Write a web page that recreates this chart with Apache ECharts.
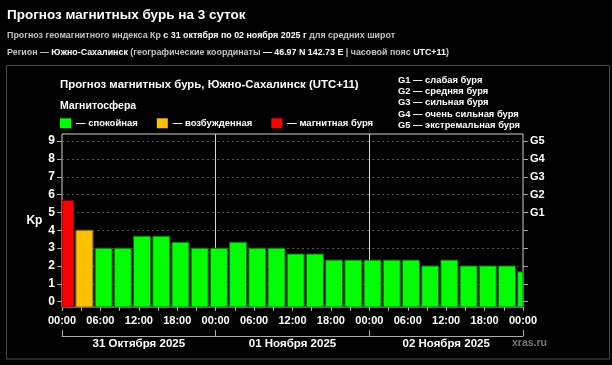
<!DOCTYPE html>
<html><head><meta charset="utf-8">
<script src="https://cdn.jsdelivr.net/npm/echarts@6/dist/echarts.min.js"></script>
<style>html,body{margin:0;padding:0;background:#000;}#c{width:612px;height:365px;}</style>
</head><body><div id="c"></div>
<script>
// ---- data ----
const barHours = [0.5, 3.5, 6.5, 9.5, 12.5, 15.5, 18.5, 21.5, 24.5, 27.5, 30.5, 33.5, 36.5, 39.5, 42.5, 45.5, 48.5, 51.5, 54.5, 57.5, 60.5, 63.5, 66.5, 69.5, 72.5];
const kpValues = [5.67, 4, 3, 3, 3.67, 3.67, 3.33, 3, 3, 3.33, 3, 3, 2.67, 2.67, 2.33, 2.33, 2.33, 2.33, 2.33, 2, 2.33, 2, 2, 2, 1.67];
const kpTicks = [0, 1, 2, 3, 4, 5, 6, 7, 8, 9];
const gLevels = [5, 6, 7, 8, 9];
const gLabels = ['G1', 'G2', 'G3', 'G4', 'G5'];
const gDescriptions = ['G1 — слабая буря', 'G2 — средняя буря', 'G3 — сильная буря', 'G4 — очень сильная буря', 'G5 — экстремальная буря'];
const timeLabels = ['00:00', '06:00', '12:00', '18:00'];
const dayLabels = ['31 Октября 2025', '01 Ноября 2025', '02 Ноября 2025'];
const dayBoundaries = [24, 48];
const legendNames = ['— спокойная', '— возбужденная', '— магнитная буря'];
const legendColors = ['#00ff00', '#ffc000', '#ff0000'];
const legendStrokes = ['#0b6e0b', '#8a6800', '#7a0000'];

const FONT = 'Liberation Sans, Arial, sans-serif';
const X_MIN = 0, X_MAX = 72, Y_MIN = -0.3, Y_MAX = 9.4;

function levelOf(v) { return v >= 5 ? 2 : (v >= 4 ? 1 : 0); }

function renderBar(params, api) {
  const h = api.value(0), v = api.value(1);
  const top = api.coord([h, v]);
  const base = api.coord([h, Y_MIN]);
  const w = api.size([3, 0])[0] * 0.885;
  const cs = params.coordSys;
  const shape = echarts.graphic.clipRectByRect(
    { x: top[0] - w / 2, y: top[1], width: w, height: base[1] - top[1] },
    { x: cs.x, y: cs.y, width: cs.width, height: cs.height });
  if (!shape) return;
  const lv = levelOf(v);
  return { type: 'rect', shape: shape, style: { fill: legendColors[lv], stroke: legendStrokes[lv], lineWidth: 1 } };
}

const chart = echarts.init(document.getElementById('c'), null, { renderer: 'canvas' });
const gray = '#c4c4c4';
const option = {
  backgroundColor: '#000',
  animation: false,
  textStyle: { fontFamily: FONT },
  title: [
    { text: 'Прогноз магнитных бурь на 3 суток', left: 7, top: 7.5, padding: 0,
      textStyle: { color: '#fff', fontSize: 13.5, fontWeight: 'bold', lineHeight: 16, fontFamily: FONT } },
    { text: '{n|Прогноз геомагнитного индекса Кр }{b|с 31 октября по 02 ноября 2025 г}{n| для средних широт}',
      left: 7, top: 30, padding: 0,
      textStyle: { fontFamily: FONT, lineHeight: 12, rich: {
        n: { color: gray, fontSize: 8.9, fontFamily: FONT, lineHeight: 12 },
        b: { color: '#fff', fontSize: 8.9, fontWeight: 'bold', fontFamily: FONT, lineHeight: 12 } } } },
    { text: '{n|Регион — }{b|Южно-Сахалинск}{n| (географические координаты }{b|— 46.97 N 142.73 E}{n| | часовой пояс }{b|UTC+11}{n|)}',
      left: 7, top: 46.3, padding: 0,
      textStyle: { fontFamily: FONT, lineHeight: 12, rich: {
        n: { color: gray, fontSize: 8.9, fontFamily: FONT, lineHeight: 12 },
        b: { color: '#fff', fontSize: 8.9, fontWeight: 'bold', fontFamily: FONT, lineHeight: 12 } } } },
    { text: 'Прогноз магнитных бурь, Южно-Сахалинск (UTC+11)', left: 60, top: 78, padding: 0,
      textStyle: { color: '#fff', fontSize: 11.4, fontWeight: 'bold', lineHeight: 14, fontFamily: FONT } },
    { text: 'Магнитосфера', left: 60, top: 99.5, padding: 0,
      textStyle: { color: '#fff', fontSize: 10.5, fontWeight: 'bold', lineHeight: 13, fontFamily: FONT } },
    { text: gDescriptions.join('\n'), left: 398, top: 74.3, padding: 0,
      textStyle: { color: '#fff', fontSize: 9.4, fontWeight: 'bold', lineHeight: 11.4, fontFamily: FONT } },
    { text: 'xras.ru', left: 512, top: 336.2, padding: 0,
      textStyle: { color: '#777', fontSize: 10.5, fontWeight: 'bold', lineHeight: 13, fontFamily: FONT } }
  ],
  legend: {
    left: 60, top: 118.3, padding: 0, itemWidth: 11, itemHeight: 10, itemGap: 19, icon: 'rect',
    data: legendNames,
    itemStyle: { opacity: 1 },
    textStyle: { color: '#fff', fontSize: 9.5, fontWeight: 'bold', fontFamily: FONT }
  },
  grid: { left: 62, top: 134, width: 461, height: 173, show: true, borderColor: '#d0d0d0', borderWidth: 1, backgroundColor: 'transparent' },
  xAxis: [
    { type: 'value', min: X_MIN, max: X_MAX, interval: 3, position: 'bottom',
      axisLine: { show: false, onZero: false },
      axisTick: { show: true, length: 4, lineStyle: { color: '#aaa' } },
      splitLine: { show: false },
      axisLabel: { color: '#fff', fontSize: 11, fontWeight: 'bold', fontFamily: FONT, margin: 8,
        formatter: function (v) { return v % 6 === 0 ? timeLabels[(v % 24) / 6] : ''; } } },
    { type: 'category', data: dayLabels, position: 'bottom', offset: 29, boundaryGap: true,
      axisLine: { show: true, onZero: false, lineStyle: { color: '#aaa', width: 1 } },
      axisTick: { show: true, inside: true, length: 6, lineStyle: { color: '#aaa' } },
      axisLabel: { color: '#fff', fontSize: 11.5, fontWeight: 'bold', fontFamily: FONT, margin: 2 } }
  ],
  yAxis: [
    { type: 'value', min: Y_MIN, max: Y_MAX, position: 'left',
      name: 'Kp', nameLocation: 'middle', nameRotate: 0, nameGap: 18,
      nameTextStyle: { color: '#fff', fontSize: 12, fontWeight: 'bold', fontFamily: FONT },
      axisLine: { show: false, onZero: false },
      axisTick: { show: true, length: 5, customValues: kpTicks, lineStyle: { color: '#aaa' } },
      axisLabel: { customValues: kpTicks, color: '#fff', fontSize: 12, fontWeight: 'bold', fontFamily: FONT, margin: 7 },
      splitLine: { show: false } },
    { type: 'value', min: Y_MIN, max: Y_MAX, position: 'right',
      axisLine: { show: false, onZero: false },
      axisTick: { show: true, length: 5, customValues: kpTicks, lineStyle: { color: '#aaa' } },
      axisLabel: { customValues: gLevels, color: '#fff', fontSize: 11, fontWeight: 'bold', fontFamily: FONT, margin: 7,
        formatter: function (v) { const i = gLevels.indexOf(v); return i >= 0 ? gLabels[i] : ''; } },
      splitLine: { show: false } }
  ],
  graphic: [
    { type: 'rect', shape: { x: 6.5, y: 65.5, width: 603, height: 293.5 }, style: { fill: null, stroke: '#4a4a4a', lineWidth: 1 }, silent: true, z: -1 }
  ],
  series: [
    { type: 'line', xAxisIndex: 0, yAxisIndex: 0, data: [], z: 1,
      markLine: { silent: true, symbol: 'none', z: 1, label: { show: false }, animation: false,
        lineStyle: { color: '#555', type: [2, 3], width: 1 },
        data: kpTicks.map(function (v) { return { yAxis: v }; }) } },
    { type: 'line', xAxisIndex: 0, yAxisIndex: 0, data: [], z: 1,
      markLine: { silent: true, symbol: 'none', z: 1, label: { show: false }, animation: false,
        lineStyle: { color: '#d8d8d8', type: 'solid', width: 1 },
        data: dayBoundaries.map(function (h) { return { xAxis: h }; }) } },
    { type: 'custom', name: 'Kp', xAxisIndex: 0, yAxisIndex: 0, z: 3, clip: true,
      renderItem: renderBar,
      encode: { x: 0, y: 1 },
      data: barHours.map(function (h, i) { return [h, kpValues[i]]; }) }
  ].concat(legendNames.map(function (n, i) {
    return { type: 'scatter', name: n, data: [], itemStyle: { color: legendColors[i], opacity: 1 } };
  }))
};
chart.setOption(option);
</script>
</body></html>
